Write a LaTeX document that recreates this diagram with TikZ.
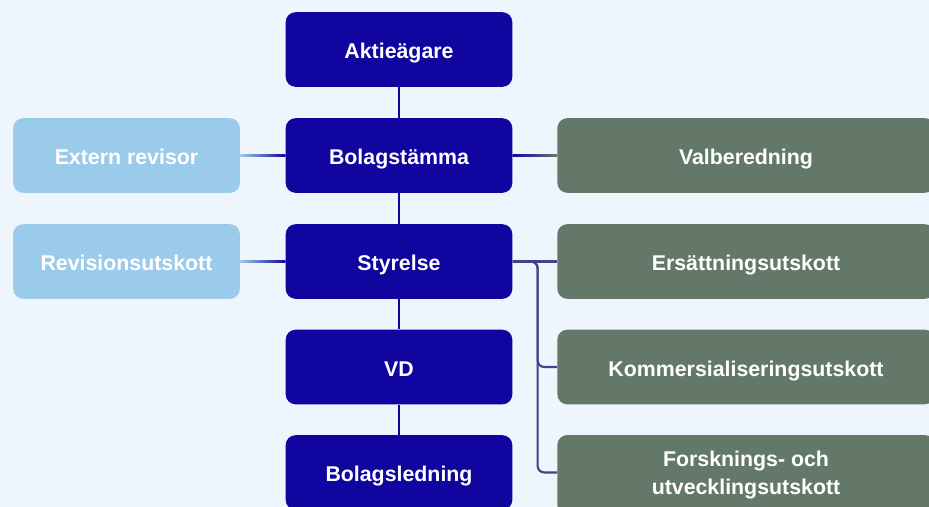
\documentclass[tikz,border=0pt]{standalone}
\usepackage{fontspec}
\setmainfont{Liberation Sans}
\definecolor{navy}{HTML}{10069F}
\definecolor{sky}{HTML}{9BCBEB}
\definecolor{sage}{HTML}{64786A}
\definecolor{paper}{HTML}{EEF5FC}
\definecolor{wire}{HTML}{3D4584}
\tikzset{
  box/.style={rectangle, rounded corners=7.5pt, minimum width=170pt, minimum height=56pt,
    text=white, font=\bfseries\fontsize{16}{21}\selectfont, align=center, inner sep=0pt,
    text height=13.6pt, text depth=0pt},
  board/.style={box, fill=navy},
  audit/.style={box, fill=sky},
  cmte/.style={box, fill=sage, minimum width=283pt},
  link/.style={draw=navy, line width=1.6pt},
  branch/.style={draw=wire, line width=1.6pt, rounded corners=5pt}
}
\begin{document}
\begin{tikzpicture}[x=0.75pt,y=-0.75pt]
			\fill[paper] (0,0) rectangle (929,507);
			\useasboundingbox (0,0) rectangle (929,507);
			\clip (0,0) rectangle (929,507);
			% mittkolumnen
			\node[board] (aktie) at (399,49.5) {Aktieägare};
			\node[board] (stamma) at (399,155.5) {Bolagstämma};
			\node[board] (styr) at (399,261.5) {Styrelse};
			\node[board] (vd) at (399,367) {VD};
			\node[board] (ledning) at (399,472.5) {Bolagsledning};
			% revision
			\node[audit] (revisor) at (126.5,155.5) {Extern revisor};
			\node[audit] (revutsk) at (126.5,261.5) {Revisionsutskott};
			% utskott
			\node[cmte] (valb) at (746,155.5) {Valberedning};
			\node[cmte] (ers) at (746,261.5) {Ersättningsutskott};
			\node[cmte] (komm) at (746,367) {Kommersialiseringsutskott};
			\node[cmte, text height=, text depth=, minimum height=60pt] (forsk) at (746,475) {Forsknings- och\\utvecklingsutskott};
			\draw[link] (aktie) -- (stamma);
			\draw[link] (stamma) -- (styr);
			\draw[link] (styr) -- (vd);
			\draw[link] (vd) -- (ledning);
			\shade[left color=sky, right color=navy] ([yshift=-0.8pt]revisor.east) rectangle ([yshift=0.8pt]stamma.west);
			\shade[left color=sky, right color=navy] ([yshift=-0.8pt]revutsk.east) rectangle ([yshift=0.8pt]styr.west);
			\shade[left color=navy, right color=sage] ([yshift=-0.8pt]stamma.east) rectangle ([yshift=0.8pt]valb.west);
			\draw[branch] (styr.east) -- (ers.west);
			\draw[branch] (styr.east) -- ++(25,0) |- (komm.west);
			\draw[branch] (styr.east) -- ++(25,0) |- ([yshift=1.9pt]forsk.west);
		\end{tikzpicture}
\end{document}
